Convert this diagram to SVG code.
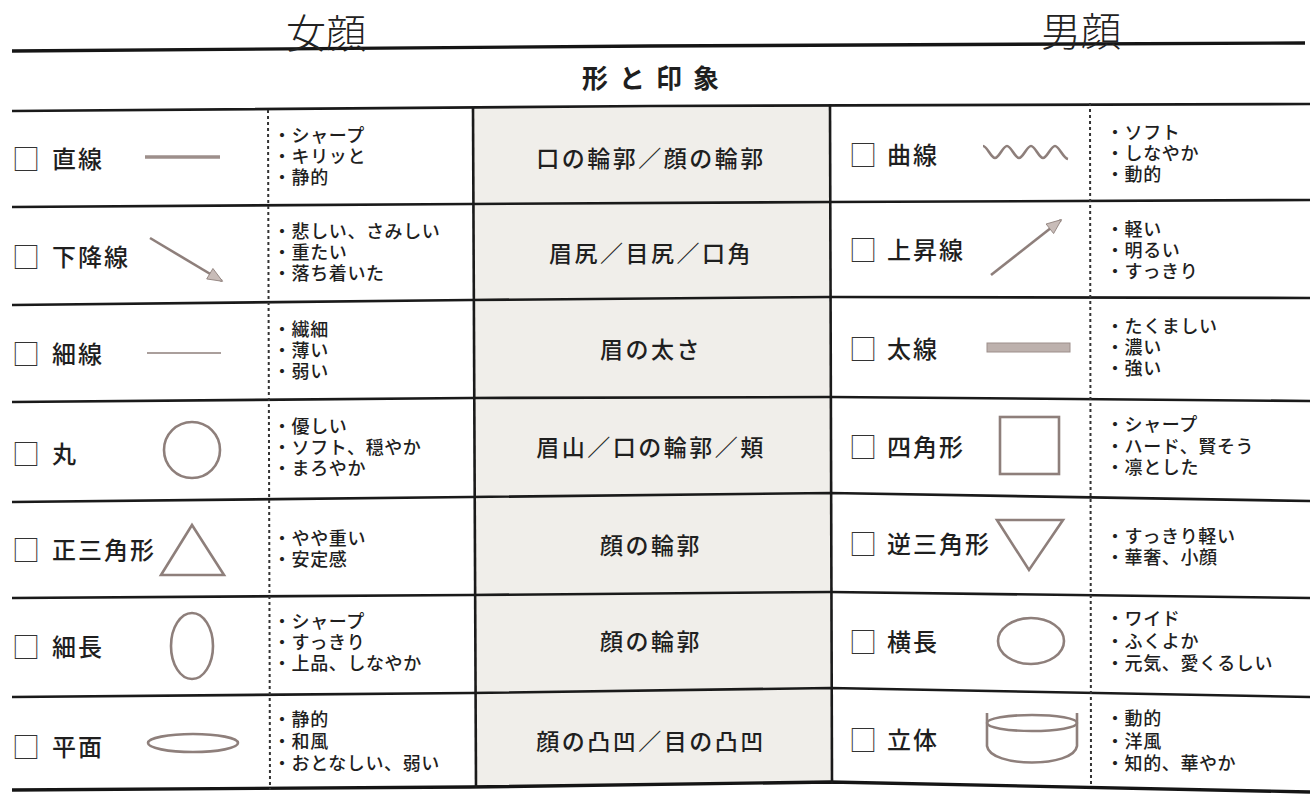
<svg xmlns="http://www.w3.org/2000/svg" width="1310" height="798" viewBox="0 0 1310 798">
<style>
text{font-family:"Noto Sans CJK JP","Noto Sans",sans-serif;fill:#1f1f1f;dominant-baseline:central;font-weight:500}
.ttl{font-size:40px;font-weight:300;fill:#222}
.hd{font-size:26px;font-weight:bold;letter-spacing:11px;text-anchor:middle}
.lbl{font-size:24px;letter-spacing:2px}
.bx{font-size:28px;font-weight:300;fill:#333}
.bl{font-size:18px;letter-spacing:0.6px}
.mid{font-size:23px;letter-spacing:2.5px;text-anchor:middle}
.rule{stroke:#1a1a1a;stroke-width:2.6;fill:none}
.thick{stroke:#151515;stroke-width:3.4;fill:none}
.dot{stroke:#333;stroke-width:2;stroke-dasharray:3 3;fill:none}
.ic{stroke:#8e7f7b;stroke-width:2.6;fill:none}
</style>
<defs>
<marker id="ah" viewBox="0 0 12 10" refX="11" refY="5" markerWidth="6.5" markerHeight="5.2" orient="auto" markerUnits="strokeWidth">
<path d="M0.5,0.5 L11.5,5 L0.5,9.5 Z" fill="#c8bcb8" stroke="#8e7f7b" stroke-width="0.6"/>
</marker>
</defs>
<rect width="1310" height="798" fill="#ffffff"/>
<polygon points="473,108 830,104 832,784 476,788" fill="#f0eeea"/>
<g id="connectors">
<polyline class="thick" points="12,51 650,46 1305,43"/>
<polyline class="rule" points="12,111 650,106 1310,104"/>
<polyline class="rule" points="12,207 470,204 830,202 1310,200"/>
<polyline class="rule" points="12,305 470,300 830,297 1310,298"/>
<polyline class="rule" points="12,402 470,398 830,397 1310,401"/>
<polyline class="rule" points="12,502 470,497 830,493 1310,501"/>
<polyline class="rule" points="12,598 470,595 830,592 1310,598"/>
<polyline class="rule" points="12,697 470,693 830,688 1310,697"/>
<polyline class="thick" points="12,790 470,787 830,782 1310,792"/>
<line class="rule" x1="473" y1="108" x2="476" y2="788"/>
<line class="rule" x1="830" y1="104" x2="832" y2="784"/>
<line class="dot" x1="268" y1="110" x2="270" y2="790"/>
<line class="dot" x1="1090" y1="103" x2="1091" y2="784"/>
</g>
<g id="titles">
<text class="ttl" x="286" y="31">女顔</text>
<text class="ttl" x="1041" y="29">男顔</text>
<text class="hd" x="656" y="76">形と印象</text>
</g>
<g id="row1">
<text class="bx" x="12" y="158">□</text>
<text class="lbl" x="52" y="157">直線</text>
<line x1="145" y1="157" x2="220" y2="157" stroke="#9d8f8b" stroke-width="3.5"/>
<text class="bl"><tspan x="273" y="134">・シャープ</tspan><tspan x="273" y="155">・キリッと</tspan><tspan x="273" y="176">・静的</tspan></text>
<text class="mid" x="651" y="157">口の輪郭／顔の輪郭</text>
<text class="bx" x="849" y="154">□</text>
<text class="lbl" x="887" y="153">曲線</text>
<path class="ic" d="M983,146 C987,146 991,158 995,158 S1003,146 1007,146 S1015,158 1019,158 S1027,146 1031,146 S1039,158 1043,158 S1051,146 1055,146 S1063,158 1068,159"/>
<text class="bl"><tspan x="1106" y="131">・ソフト</tspan><tspan x="1106" y="152">・しなやか</tspan><tspan x="1106" y="173">・動的</tspan></text>
</g>
<g id="row2">
<text class="bx" x="12" y="256">□</text>
<text class="lbl" x="52" y="255">下降線</text>
<line class="ic" x1="150" y1="238" x2="222" y2="281" marker-end="url(#ah)"/>
<text class="bl"><tspan x="273" y="230">・悲しい、さみしい</tspan><tspan x="273" y="251">・重たい</tspan><tspan x="273" y="272">・落ち着いた</tspan></text>
<text class="mid" x="651" y="252">眉尻／目尻／口角</text>
<text class="bx" x="849" y="249">□</text>
<text class="lbl" x="887" y="248">上昇線</text>
<line class="ic" x1="991" y1="275" x2="1061" y2="220" marker-end="url(#ah)"/>
<text class="bl"><tspan x="1106" y="228">・軽い</tspan><tspan x="1106" y="249">・明るい</tspan><tspan x="1106" y="270">・すっきり</tspan></text>
</g>
<g id="row3">
<text class="bx" x="12" y="353">□</text>
<text class="lbl" x="52" y="352">細線</text>
<line x1="147" y1="353" x2="221" y2="353" stroke="#8e7f7b" stroke-width="1.6"/>
<text class="bl"><tspan x="273" y="328">・繊細</tspan><tspan x="273" y="349">・薄い</tspan><tspan x="273" y="370">・弱い</tspan></text>
<text class="mid" x="651" y="348">眉の太さ</text>
<text class="bx" x="849" y="348">□</text>
<text class="lbl" x="887" y="347">太線</text>
<rect x="987" y="343" width="83" height="9" fill="#bdb1ad" stroke="#9d8f8b" stroke-width="1"/>
<text class="bl"><tspan x="1106" y="325">・たくましい</tspan><tspan x="1106" y="346">・濃い</tspan><tspan x="1106" y="367">・強い</tspan></text>
</g>
<g id="row4">
<text class="bx" x="12" y="453">□</text>
<text class="lbl" x="52" y="452">丸</text>
<circle class="ic" cx="192" cy="450" r="28"/>
<text class="bl"><tspan x="273" y="425">・優しい</tspan><tspan x="273" y="446">・ソフト、穏やか</tspan><tspan x="273" y="467">・まろやか</tspan></text>
<text class="mid" x="651" y="446">眉山／口の輪郭／頬</text>
<text class="bx" x="849" y="446">□</text>
<text class="lbl" x="887" y="445">四角形</text>
<rect class="ic" x="1000" y="417" width="59" height="57"/>
<text class="bl"><tspan x="1106" y="423">・シャープ</tspan><tspan x="1106" y="445">・ハード、賢そう</tspan><tspan x="1106" y="466">・凛とした</tspan></text>
</g>
<g id="row5">
<text class="bx" x="12" y="549">□</text>
<text class="lbl" x="52" y="548">正三角形</text>
<polygon class="ic" points="192,525 224,575 161,575"/>
<text class="bl"><tspan x="273" y="537">・やや重い</tspan><tspan x="273" y="558">・安定感</tspan></text>
<text class="mid" x="651" y="544">顔の輪郭</text>
<text class="bx" x="849" y="543">□</text>
<text class="lbl" x="887" y="542">逆三角形</text>
<polygon class="ic" points="997,520 1063,520 1029,570"/>
<text class="bl"><tspan x="1106" y="535">・すっきり軽い</tspan><tspan x="1106" y="556">・華奢、小顔</tspan></text>
</g>
<g id="row6">
<text class="bx" x="12" y="646">□</text>
<text class="lbl" x="52" y="645">細長</text>
<ellipse class="ic" cx="192" cy="646" rx="21" ry="33"/>
<text class="bl"><tspan x="273" y="620">・シャープ</tspan><tspan x="273" y="641">・すっきり</tspan><tspan x="273" y="662">・上品、しなやか</tspan></text>
<text class="mid" x="651" y="640">顔の輪郭</text>
<text class="bx" x="849" y="641">□</text>
<text class="lbl" x="887" y="640">横長</text>
<ellipse class="ic" cx="1031" cy="641" rx="33" ry="23"/>
<text class="bl"><tspan x="1106" y="617">・ワイド</tspan><tspan x="1106" y="640">・ふくよか</tspan><tspan x="1106" y="662">・元気、愛くるしい</tspan></text>
</g>
<g id="row7">
<text class="bx" x="12" y="746">□</text>
<text class="lbl" x="52" y="745">平面</text>
<ellipse class="ic" cx="193" cy="743" rx="45" ry="9"/>
<text class="bl"><tspan x="273" y="718">・静的</tspan><tspan x="273" y="740">・和風</tspan><tspan x="273" y="762">・おとなしい、弱い</tspan></text>
<text class="mid" x="651" y="740">顔の凸凹／目の凸凹</text>
<text class="bx" x="849" y="739">□</text>
<text class="lbl" x="887" y="738">立体</text>
<ellipse class="ic" cx="1032" cy="723" rx="45" ry="8"/>
<path class="ic" d="M987,713 V746 C990,768 1074,768 1077,746 V713"/>
<text class="bl"><tspan x="1106" y="717">・動的</tspan><tspan x="1106" y="740">・洋風</tspan><tspan x="1106" y="762">・知的、華やか</tspan></text>
</g>
</svg>
